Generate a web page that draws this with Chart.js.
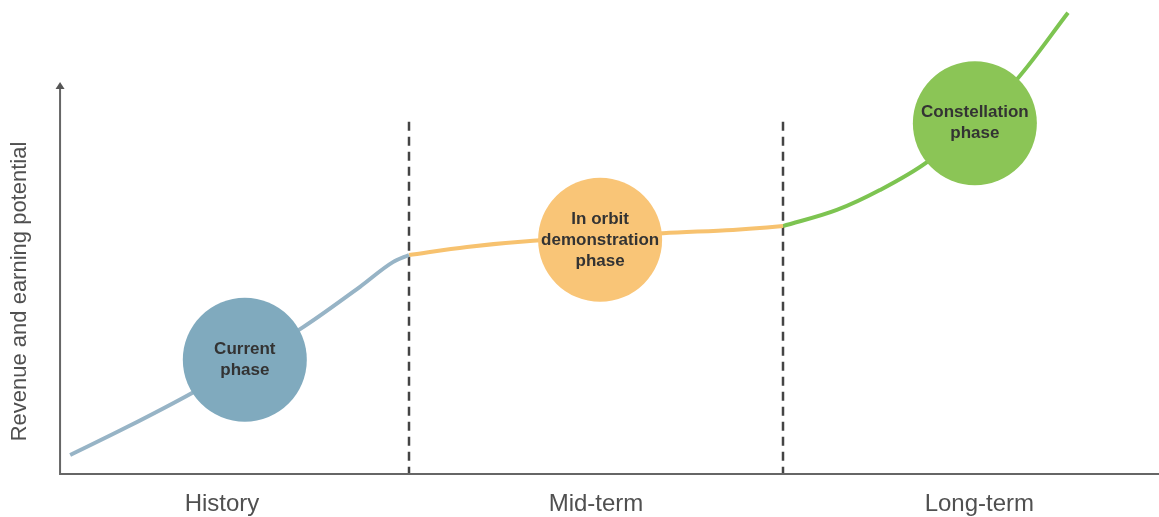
<!DOCTYPE html>
<html>
<head>
<meta charset="utf-8">
<script src="https://cdn.jsdelivr.net/npm/chart.js@4"></script>
<style>
  html, body { margin: 0; padding: 0; background: #fff; }
  #wrap { width: 1159px; height: 517px; position: relative; }
</style>
</head>
<body>
<div id="wrap"><canvas id="myChart"></canvas></div>
<script>
var ctx = document.getElementById("myChart").getContext('2d');

// phases along the time axis (x = 0..3, one unit per phase)
const phaseLabels = ["History", "Mid-term", "Long-term"];
const phaseBounds = [1, 2];           // dashed separators
const axisX = 0.067;                  // where the y axis sits

// growth curve, one piece per phase
const historyX = [0.094, 0.246, 0.420, 0.561, 0.717, 0.869, 0.957, 1.0];
const historyY = [4.0, 9.9, 17.1, 23.6, 31.0, 39.5, 44.7, 46.2];
const midX = [1.0, 1.155, 1.332, 1.511, 1.679, 1.866, 1.957, 2.0];
const midY = [46.2, 47.9, 49.2, 49.9, 50.8, 51.5, 52.0, 52.3];
const longX = [2.0, 2.144, 2.259, 2.385, 2.513, 2.628, 2.762];
const longY = [52.3, 55.7, 59.9, 65.8, 74.5, 83.5, 97.3];

// phase bubbles
const bubbleNames = [["Current", "phase"], ["In orbit", "demonstration", "phase"], ["Constellation", "phase"]];
const bubbleX = [0.561, 1.511, 2.513];
const bubbleY = [24.1, 49.4, 74.0];
const bubbleR = [62, 62, 62];

const lineColors = ['#97b4c6', '#f7c26f', '#7dc451'];
const bubbleColors = ['#80aabe', '#f9c577', '#8bc556'];

function pts(xs, ys) {
  return xs.map((x, i) => ({ x: x, y: ys[i] }));
}

const bubbles = bubbleX.map((x, i) => ({
  type: 'bubble',
  label: bubbleNames[i].join(' '),
  data: [{ x: x, y: bubbleY[i], r: bubbleR[i] }],
  backgroundColor: bubbleColors[i],
  borderWidth: 0,
  hoverRadius: 0,
  clip: false
}));

const curves = [[historyX, historyY], [midX, midY], [longX, longY]].map((c, i) => ({
  type: 'line',
  label: phaseLabels[i],
  data: pts(c[0], c[1]),
  borderColor: lineColors[i],
  borderWidth: 4,
  pointRadius: 0,
  fill: false,
  cubicInterpolationMode: 'monotone',
  clip: false
}));

// axes, arrow, dashed separators and all the text
const decor = {
  id: 'decor',
  beforeDatasetsDraw(chart) {
    const c = chart.ctx, xs = chart.scales.x, ys = chart.scales.y;
    const x0 = xs.getPixelForValue(axisX), y0 = ys.getPixelForValue(0);
    c.save();
    // dashed phase separators
    c.strokeStyle = '#444';
    c.lineWidth = 2.5;
    c.setLineDash([9, 6]);
    phaseBounds.forEach(b => {
      const px = Math.round(xs.getPixelForValue(b));
      c.beginPath();
      c.moveTo(px, ys.getPixelForValue(74.3));
      c.lineTo(px, y0);
      c.stroke();
    });
    c.setLineDash([]);
    // axes
    c.strokeStyle = '#666';
    c.lineWidth = 2;
    c.beginPath();
    c.moveTo(x0, ys.getPixelForValue(82));
    c.lineTo(x0, y0);
    c.lineTo(chart.width, y0);
    c.stroke();
    // arrow head on the y axis
    const top = ys.getPixelForValue(82.3);
    c.fillStyle = '#555';
    c.beginPath();
    c.moveTo(x0, top - 2);
    c.lineTo(x0 - 4.5, top + 5);
    c.lineTo(x0 + 4.5, top + 5);
    c.closePath();
    c.fill();
    // phase names under the axis
    c.fillStyle = '#505050';
    c.font = '24px "Liberation Sans", Arial, sans-serif';
    c.textAlign = 'center';
    c.textBaseline = 'middle';
    phaseLabels.forEach((t, i) => {
      const off = i === 2 ? 0.025 : 0;
      c.fillText(t, xs.getPixelForValue(i + 0.5 + off), y0 + 30);
    });
    // y axis title
    c.font = '22px "Liberation Sans", Arial, sans-serif';
    c.translate(20, ys.getPixelForValue(38.5));
    c.rotate(-Math.PI / 2);
    c.fillText('Revenue and earning potential', 0, 0);
    c.restore();
  },
  afterDatasetsDraw(chart) {
    const c = chart.ctx;
    c.save();
    c.fillStyle = '#333';
    c.font = 'bold 17px "Liberation Sans", Arial, sans-serif';
    c.textAlign = 'center';
    c.textBaseline = 'middle';
    bubbles.forEach((d, i) => {
      const el = chart.getDatasetMeta(i).data[0];
      const lines = bubbleNames[i];
      const lh = 21;
      lines.forEach((t, j) => {
        c.fillText(t, el.x, el.y + (j - (lines.length - 1) / 2) * lh);
      });
    });
    c.restore();
  }
};

const config = {
  type: 'line',
  data: { datasets: bubbles.concat(curves) },
  options: {
    responsive: true,
    maintainAspectRatio: false,
    animation: false,
    events: [],
    layout: { autoPadding: false, padding: { left: 35, right: 2, top: 0, bottom: 43 } },
    plugins: { legend: { display: false }, tooltip: { enabled: false } },
    scales: {
      x: { type: 'linear', min: 0, max: 3, display: false },
      y: { type: 'linear', min: 0, max: 100, display: false }
    }
  },
  plugins: [decor]
};

var myChart = new Chart(ctx, config);
</script>
</body>
</html>
